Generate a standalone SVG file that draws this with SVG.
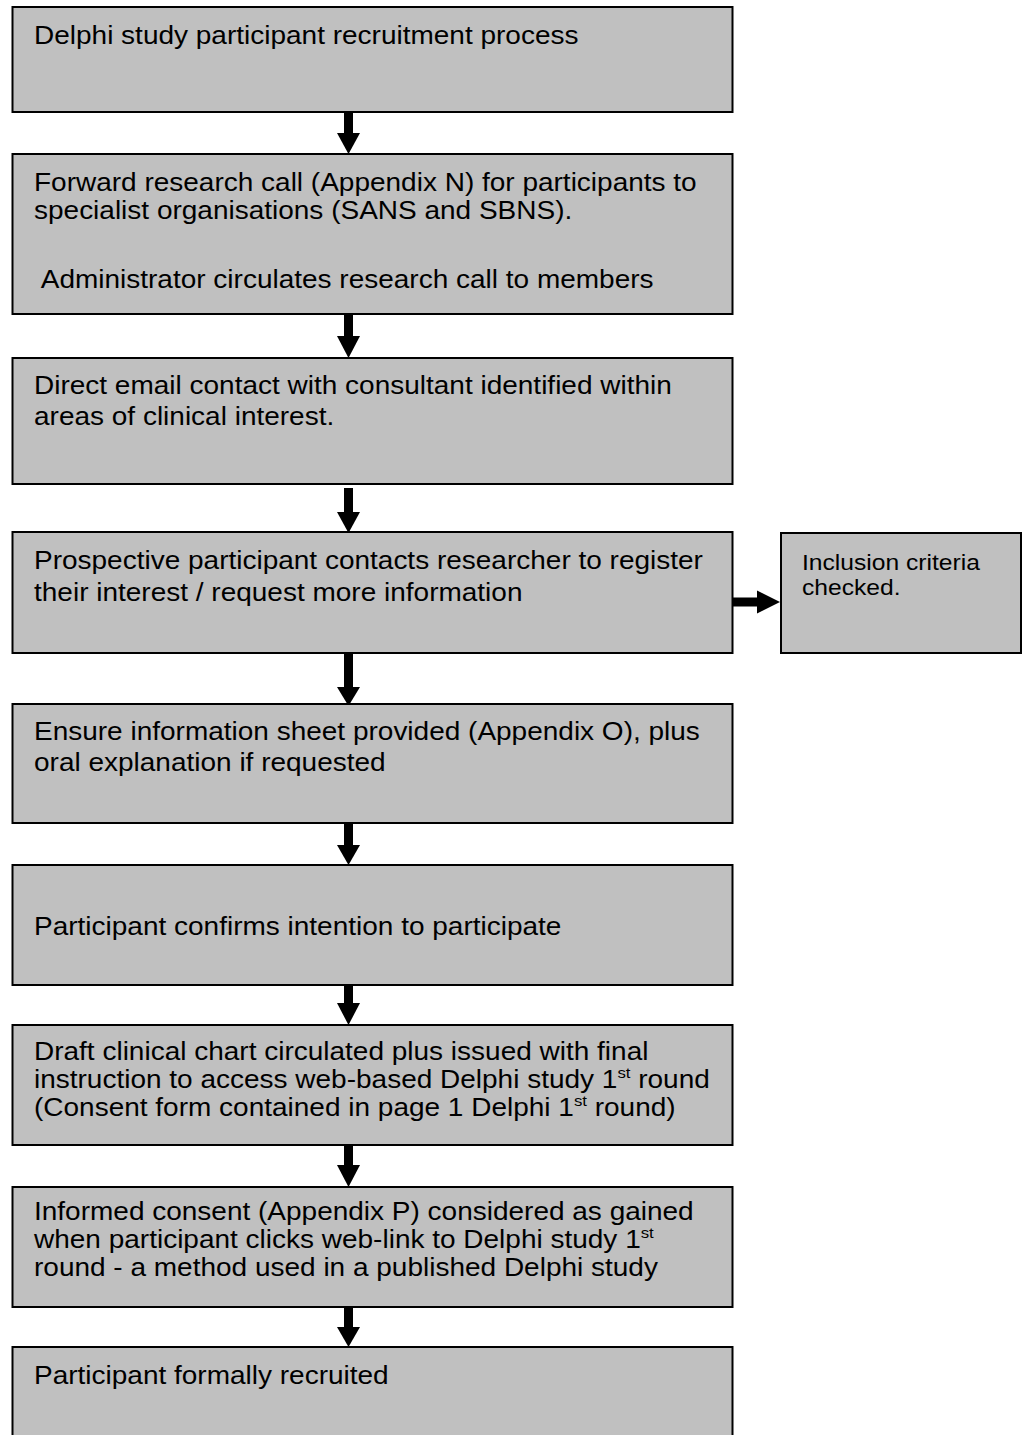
<svg xmlns="http://www.w3.org/2000/svg" width="1027" height="1435" viewBox="0 0 1027 1435">
<style>
.box{fill:#c0c0c0;stroke:#000;stroke-width:2}
.t{font-family:"Liberation Sans",Arial,sans-serif;font-size:25px;fill:#000}
.s{font-family:"Liberation Sans",Arial,sans-serif;font-size:22px;fill:#000}
.sup{font-size:15px}
.arr{fill:#000}
</style>
<rect width="1027" height="1435" fill="#fff"/>
<g id="connectors">
<g class="arr">
<rect x="344" y="108" width="9" height="26"/><polygon points="337,133 360,133 348.5,154"/>
<rect x="344" y="313" width="9" height="24"/><polygon points="337,336 360,336 348.5,358"/>
<rect x="344" y="488" width="9" height="25"/><polygon points="337,512 360,512 348.5,533"/>
<rect x="344" y="652" width="9" height="36"/><polygon points="337,687 360,687 348.5,706"/>
<rect x="344" y="823" width="9" height="23"/><polygon points="337,845 360,845 348.5,865"/>
<rect x="344" y="985" width="9" height="19"/><polygon points="337,1003 360,1003 348.5,1025"/>
<rect x="344" y="1145" width="9" height="21"/><polygon points="337,1165 360,1165 348.5,1187"/>
<rect x="344" y="1307" width="9" height="21"/><polygon points="337,1327 360,1327 348.5,1347"/>
<rect x="733" y="597.5" width="25" height="9"/><polygon points="757,590.5 757,613.5 780,602"/>
</g>
</g>
<g id="n1"><rect class="box" x="12.5" y="7" width="720" height="105"/>
<text class="t" transform="translate(34 44) scale(1.12 1)">Delphi study participant recruitment process</text></g>
<g id="n2"><rect class="box" x="12.5" y="154" width="720" height="160"/>
<text class="t" transform="translate(34 191) scale(1.12 1)"><tspan x="0" y="0">Forward research call (Appendix N) for participants to</tspan><tspan x="0" y="28">specialist organisations (SANS and SBNS).</tspan><tspan x="6" y="97">Administrator circulates research call to members</tspan></text></g>
<g id="n3"><rect class="box" x="12.5" y="358" width="720" height="126"/>
<text class="t" transform="translate(34 394) scale(1.12 1)"><tspan x="0" y="0">Direct email contact with consultant identified within</tspan><tspan x="0" y="31">areas of clinical interest.</tspan></text></g>
<g id="n4"><rect class="box" x="12.5" y="532" width="720" height="121"/>
<text class="t" transform="translate(34 569) scale(1.12 1)"><tspan x="0" y="0">Prospective participant contacts researcher to register</tspan><tspan x="0" y="32">their interest / request more information</tspan></text></g>
<g id="n4b"><rect class="box" x="781" y="533" width="240" height="120"/>
<text class="s" transform="translate(802 570) scale(1.12 1)"><tspan x="0" y="0">Inclusion criteria</tspan><tspan x="0" y="25">checked.</tspan></text></g>
<g id="n5"><rect class="box" x="12.5" y="704" width="720" height="119"/>
<text class="t" transform="translate(34 740) scale(1.12 1)"><tspan x="0" y="0">Ensure information sheet provided (Appendix O), plus</tspan><tspan x="0" y="31">oral explanation if requested</tspan></text></g>
<g id="n6"><rect class="box" x="12.5" y="865" width="720" height="120"/>
<text class="t" transform="translate(34 935) scale(1.12 1)">Participant confirms intention to participate</text></g>
<g id="n7"><rect class="box" x="12.5" y="1025" width="720" height="120"/>
<text class="t" transform="translate(34 1060) scale(1.12 1)"><tspan x="0" y="0">Draft clinical chart circulated plus issued with final</tspan><tspan x="0" y="28">instruction to access web-based Delphi study 1</tspan><tspan class="sup" dy="-10">st</tspan><tspan dy="10"> round</tspan><tspan x="0" y="56">(Consent form contained in page 1 Delphi 1</tspan><tspan class="sup" dy="-10">st</tspan><tspan dy="10"> round)</tspan></text></g>
<g id="n8"><rect class="box" x="12.5" y="1187" width="720" height="120"/>
<text class="t" transform="translate(34 1220) scale(1.12 1)"><tspan x="0" y="0">Informed consent (Appendix P) considered as gained</tspan><tspan x="0" y="28">when participant clicks web-link to Delphi study 1</tspan><tspan class="sup" dy="-10">st</tspan><tspan x="0" y="56">round - a method used in a published Delphi study</tspan></text></g>
<g id="n9"><rect class="box" x="12.5" y="1347" width="720" height="100"/>
<text class="t" transform="translate(34 1384) scale(1.12 1)">Participant formally recruited</text></g>
</svg>
